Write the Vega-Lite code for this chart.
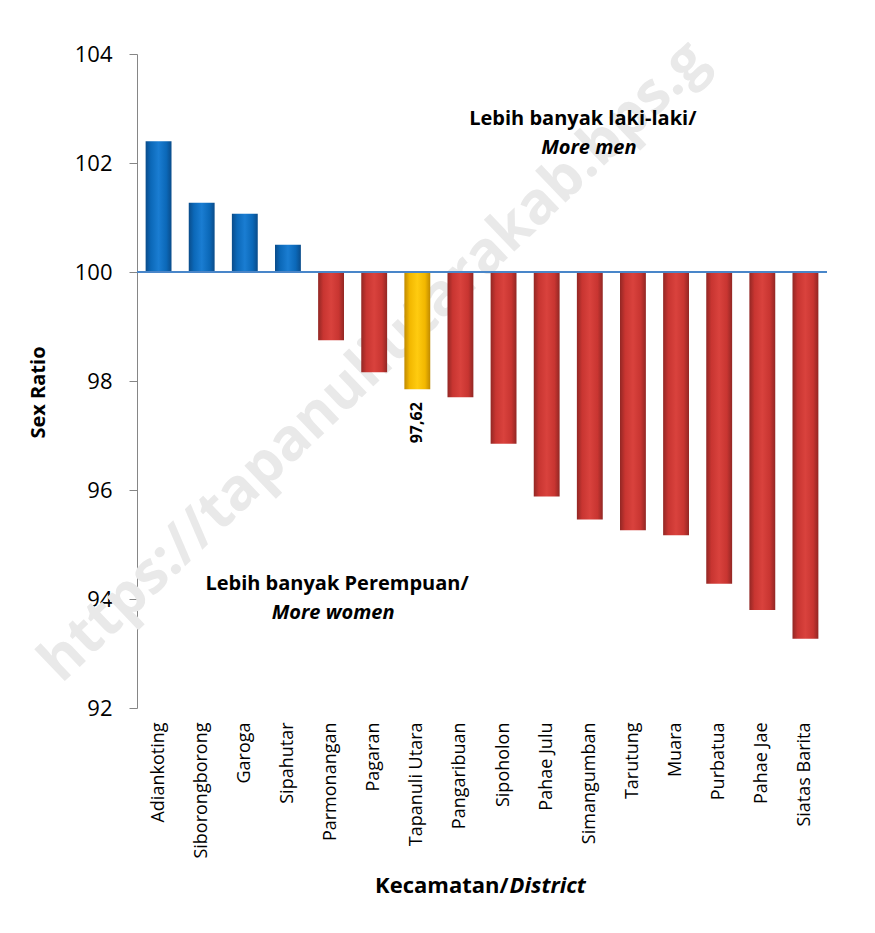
{
  "$schema": "https://vega.github.io/schema/vega-lite/v6.json",
  "autosize": {"type": "none"},
  "width": 690,
  "height": 654,
  "padding": {"left": 137, "top": 54, "right": 48, "bottom": 225},
  "background": "white",
  "config": {
    "font": "Open Sans",
    "view": {"stroke": null}
  },
  "data": {
    "values": [
      {"district": "Adiankoting", "value": 102.40, "group": "men", "label": ""},
      {"district": "Siborongborong", "value": 101.27, "group": "men", "label": ""},
      {"district": "Garoga", "value": 101.07, "group": "men", "label": ""},
      {"district": "Sipahutar", "value": 100.50, "group": "men", "label": ""},
      {"district": "Parmonangan", "value": 98.75, "group": "women", "label": ""},
      {"district": "Pagaran", "value": 98.16, "group": "women", "label": ""},
      {"district": "Tapanuli Utara", "value": 97.85, "group": "total", "label": "97,62"},
      {"district": "Pangaribuan", "value": 97.70, "group": "women", "label": ""},
      {"district": "Sipoholon", "value": 96.85, "group": "women", "label": ""},
      {"district": "Pahae Julu", "value": 95.88, "group": "women", "label": ""},
      {"district": "Simangumban", "value": 95.46, "group": "women", "label": ""},
      {"district": "Tarutung", "value": 95.26, "group": "women", "label": ""},
      {"district": "Muara", "value": 95.17, "group": "women", "label": ""},
      {"district": "Purbatua", "value": 94.28, "group": "women", "label": ""},
      {"district": "Pahae Jae", "value": 93.80, "group": "women", "label": ""},
      {"district": "Siatas Barita", "value": 93.27, "group": "women", "label": ""}
    ]
  },
  "encoding": {
    "x": {
      "field": "district",
      "type": "nominal",
      "sort": ["Adiankoting", "Siborongborong", "Garoga", "Sipahutar", "Parmonangan", "Pagaran", "Tapanuli Utara", "Pangaribuan", "Sipoholon", "Pahae Julu", "Simangumban", "Tarutung", "Muara", "Purbatua", "Pahae Jae", "Siatas Barita"],
      "scale": {"paddingInner": 0.4, "paddingOuter": 0.2},
      "axis": {
        "title": null,
        "labelAngle": -90,
        "labelFontSize": 18,
        "labelColor": "#000000",
        "labelPadding": 14,
        "ticks": false,
        "domain": false,
        "grid": false
      }
    },
    "y": {
      "field": "value",
      "type": "quantitative",
      "scale": {"domain": [92, 104], "zero": false, "nice": false},
      "axis": {
        "title": "Sex Ratio",
        "titleFontSize": 20,
        "titleFontWeight": "bold",
        "titleColor": "#000000",
        "titleAngle": -90,
        "titleX": -99,
        "titleY": 338,
        "titleAlign": "center",
        "titleBaseline": "middle",
        "values": [92, 94, 96, 98, 100, 102, 104],
        "labelFontSize": 22,
        "labelColor": "#000000",
        "labelPadding": 17,
        "tickSize": 8,
        "tickColor": "#868686",
        "domainColor": "#868686",
        "grid": false
      }
    }
  },
  "layer": [
    {
      "data": {"values": [{"district": "Pagaran", "value": 98.35, "t": "https://tapanuliutarakab.bps.g"}]},
      "mark": {"type": "text", "angle": -43.7, "fontSize": 58, "fontWeight": "bold", "color": "#e9e9e9", "align": "center", "baseline": "middle"},
      "encoding": {"text": {"field": "t"}}
    },
    {
      "transform": [{"filter": "datum.group === 'men'"}],
      "mark": {
        "type": "bar",
        "color": {"gradient": "linear", "x1": 0, "x2": 1, "y1": 0, "y2": 0,
          "stops": [
            {"offset": 0, "color": "#0a4c8a"},
            {"offset": 0.2, "color": "#0b68b8"},
            {"offset": 0.5, "color": "#1a7dd2"},
            {"offset": 0.8, "color": "#0b68b8"},
            {"offset": 1, "color": "#0a4c8a"}
          ]}
      },
      "encoding": {"y2": {"datum": 100}}
    },
    {
      "transform": [{"filter": "datum.group === 'women'"}],
      "mark": {
        "type": "bar",
        "color": {"gradient": "linear", "x1": 0, "x2": 1, "y1": 0, "y2": 0,
          "stops": [
            {"offset": 0, "color": "#922724"},
            {"offset": 0.2, "color": "#c83531"},
            {"offset": 0.5, "color": "#d9423d"},
            {"offset": 0.8, "color": "#c83531"},
            {"offset": 1, "color": "#922724"}
          ]}
      },
      "encoding": {"y2": {"datum": 100}}
    },
    {
      "transform": [{"filter": "datum.group === 'total'"}],
      "mark": {
        "type": "bar",
        "color": {"gradient": "linear", "x1": 0, "x2": 1, "y1": 0, "y2": 0,
          "stops": [
            {"offset": 0, "color": "#c08a00"},
            {"offset": 0.2, "color": "#f2b700"},
            {"offset": 0.5, "color": "#ffcb10"},
            {"offset": 0.8, "color": "#f2b700"},
            {"offset": 1, "color": "#c08a00"}
          ]}
      },
      "encoding": {"y2": {"datum": 100}}
    },
    {
      "mark": {"type": "rule", "color": "#4a86c8", "strokeWidth": 1.5},
      "encoding": {"x": null, "y": {"datum": 100}}
    },
    {
      "transform": [{"filter": "datum.label !== ''"}],
      "mark": {"type": "text", "angle": -90, "align": "right", "baseline": "middle", "dx": -13, "fontSize": 16, "fontWeight": "bold", "color": "#000000"},
      "encoding": {"text": {"field": "label"}}
    },
    {
      "data": {"values": [{"district": "Simangumban", "value": 102.69, "t": "Lebih banyak laki-laki/"}]},
      "mark": {"type": "text", "dx": -7, "fontSize": 20, "fontWeight": "bold", "color": "#000000", "align": "center", "baseline": "alphabetic"},
      "encoding": {"text": {"field": "t"}}
    },
    {
      "data": {"values": [{"district": "Simangumban", "value": 102.16, "t": "More men"}]},
      "mark": {"type": "text", "dx": -1, "fontSize": 20, "fontWeight": "bold", "fontStyle": "italic", "color": "#000000", "align": "center", "baseline": "alphabetic"},
      "encoding": {"text": {"field": "t"}}
    },
    {
      "data": {"values": [{"district": "Parmonangan", "value": 94.17, "t": "Lebih banyak Perempuan/"}]},
      "mark": {"type": "text", "dx": 6, "fontSize": 20, "fontWeight": "bold", "color": "#000000", "align": "center", "baseline": "alphabetic"},
      "encoding": {"text": {"field": "t"}}
    },
    {
      "data": {"values": [{"district": "Parmonangan", "value": 93.63, "t": "More women"}]},
      "mark": {"type": "text", "dx": 2, "fontSize": 20, "fontWeight": "bold", "fontStyle": "italic", "color": "#000000", "align": "center", "baseline": "alphabetic"},
      "encoding": {"text": {"field": "t"}}
    },
    {
      "data": {"values": [{"district": "Sipoholon", "value": 88.6, "t": "Kecamatan/"}]},
      "mark": {"type": "text", "dx": 5, "fontSize": 22, "fontWeight": "bold", "color": "#000000", "align": "right", "baseline": "alphabetic"},
      "encoding": {"text": {"field": "t"}}
    },
    {
      "data": {"values": [{"district": "Sipoholon", "value": 88.6, "t": "District"}]},
      "mark": {"type": "text", "dx": 6, "fontSize": 22, "fontWeight": "bold", "fontStyle": "italic", "color": "#000000", "align": "left", "baseline": "alphabetic"},
      "encoding": {"text": {"field": "t"}}
    }
  ]
}
